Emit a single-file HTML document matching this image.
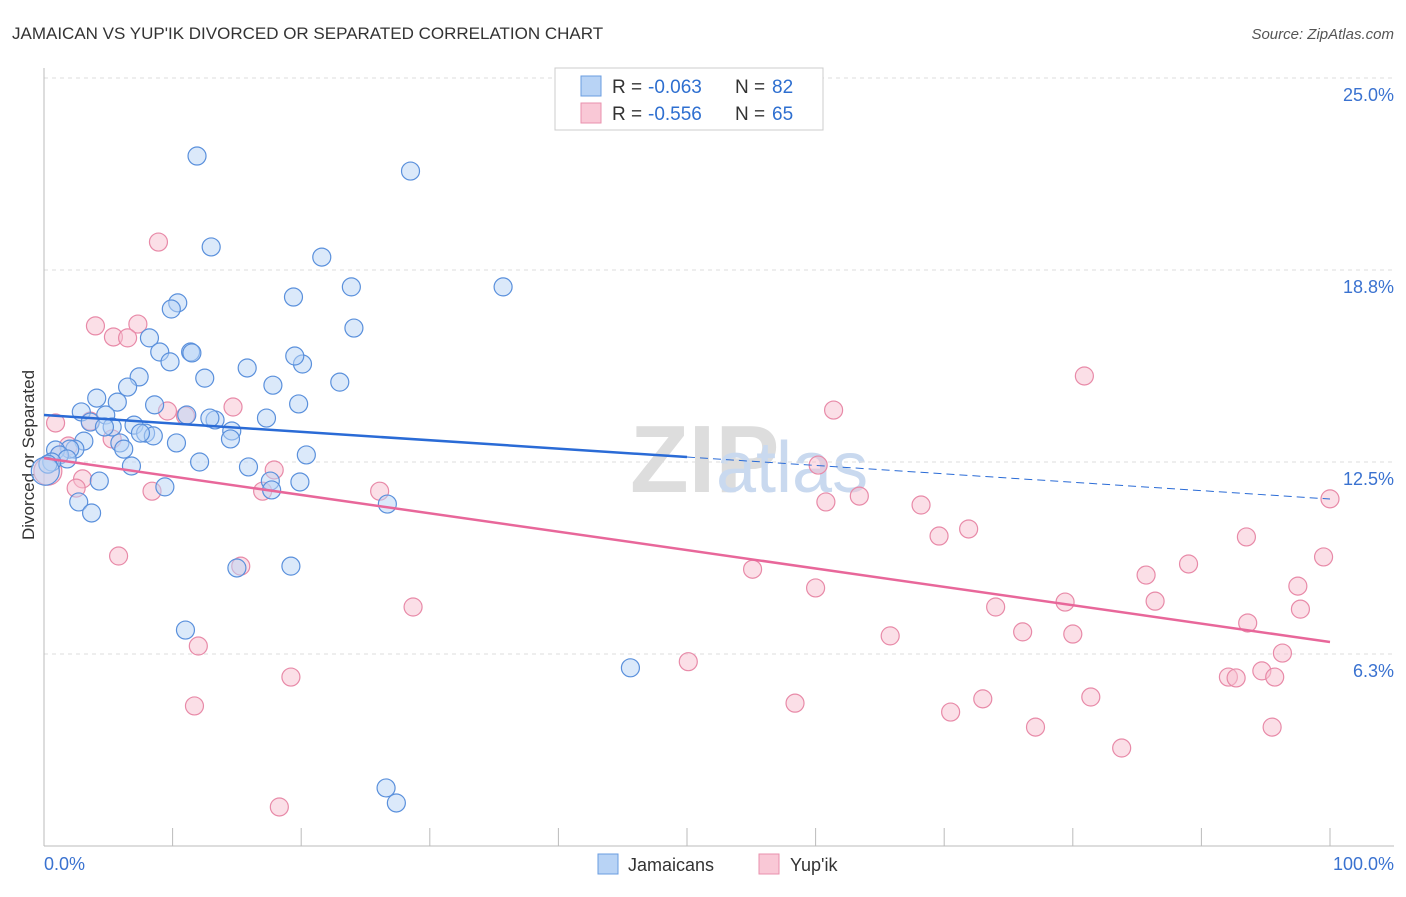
<!DOCTYPE html>
<html><head><meta charset="utf-8"><style>
body{margin:0;background:#fff;font-family:"Liberation Sans",sans-serif;}
svg text{font-family:"Liberation Sans",sans-serif;}
</style></head><body>
<svg id="c" width="1406" height="892" xmlns="http://www.w3.org/2000/svg">
<text x="12" y="39" font-size="17" fill="#333">JAMAICAN VS YUP'IK DIVORCED OR SEPARATED CORRELATION CHART</text>
<text x="1394" y="39" font-size="15" fill="#555" text-anchor="end" font-style="italic">Source: ZipAtlas.com</text>
<text x="630" y="492" font-size="96" fill="#ddd" font-family="Liberation Serif" font-weight="bold">ZIP</text>
<text x="716" y="492" font-size="72" fill="#c9d9ef">atlas</text>
<text transform="translate(34,455) rotate(-90)" font-size="17" fill="#333" text-anchor="middle">Divorced or Separated</text>
<g id="grid"></g><g id="pts"></g><g id="lines"></g>
<g>
<rect x="555" y="68" width="268" height="62" fill="#fff" stroke="#ccc"/>
<rect x="581" y="76" width="20" height="20" fill="#b8d3f5" stroke="#6a9de0"/>
<rect x="581" y="103" width="20" height="20" fill="#f9c8d6" stroke="#e991ad"/>
<text x="612" y="93" font-size="19" fill="#333">R =</text>
<text x="648" y="93" font-size="19" fill="#2e6fd0">-0.063</text>
<text x="735" y="93" font-size="19" fill="#333">N =</text>
<text x="772" y="93" font-size="19" fill="#2e6fd0">82</text>
<text x="612" y="120" font-size="19" fill="#333">R =</text>
<text x="648" y="120" font-size="19" fill="#2e6fd0">-0.556</text>
<text x="735" y="120" font-size="19" fill="#333">N =</text>
<text x="772" y="120" font-size="19" fill="#2e6fd0">65</text>
</g>
<g>
<rect x="598" y="854" width="20" height="20" fill="#b8d3f5" stroke="#6a9de0"/>
<text x="628" y="871" font-size="18" fill="#333">Jamaicans</text>
<rect x="759" y="854" width="20" height="20" fill="#f9c8d6" stroke="#e991ad"/>
<text x="790" y="871" font-size="18" fill="#333">Yup'ik</text>
</g>
<text x="44" y="870" font-size="18" fill="#3a72d0">0.0%</text>
<text x="1394" y="870" font-size="18" fill="#3a72d0" text-anchor="end">100.0%</text>
</svg>
<script>
const yTicks=[25,18.75,12.5,6.25];
const yTickLabels=["25.0%","18.8%","12.5%","6.3%"];
const blueX=[11.9,28.5,13,21.6,19.4,23.9,35.7,10.4,9.9,24.1,8.2,9,11.4,11.5,9.8,15.8,20.1,19.5,12.5,7.4,6.5,17.8,23,4.1,5.7,8.6,19.8,2.9,4.8,11.1,13.3,12.9,17.3,3.6,7,5.3,4.7,7.9,14.6,8.5,7.5,3.1,14.5,10.3,5.9,6.2,2.4,2,0.9,1.2,1.8,0.6,0.3,20.4,6.8,12.1,15.9,17.6,4.3,19.9,17.7,9.4,2.7,26.7,3.7,15,19.2,11,45.6,26.6,27.4,0.1];
const blueY=[22.46,21.97,19.5,19.17,17.87,18.2,18.2,17.68,17.48,16.86,16.54,16.08,16.08,16.05,15.76,15.56,15.69,15.95,15.23,15.27,14.94,15.0,15.1,14.58,14.45,14.36,14.39,14.13,14.03,14.03,13.87,13.93,13.93,13.8,13.7,13.64,13.64,13.44,13.51,13.35,13.44,13.18,13.25,13.12,13.12,12.92,12.92,12.92,12.89,12.73,12.6,12.5,12.43,12.73,12.37,12.5,12.34,11.88,11.88,11.85,11.59,11.69,11.2,11.13,10.84,9.05,9.11,7.03,5.8,1.89,1.4,12.2];
const pinkX=[8.9,4,7.3,5.4,6.5,80.9,61.4,14.7,9.6,11,0.9,3.6,5.3,1.9,1.2,3,2.5,8.4,17,17.9,26.1,60.2,60.8,63.4,68.2,71.9,69.6,93.5,100,99.5,5.8,15.3,55.1,85.7,89,97.5,60,28.7,79.4,86.4,74,97.7,93.6,76.1,80,65.8,12,50.1,96.3,19.2,94.7,92.1,92.7,95.7,81.4,73,58.4,70.5,11.7,77.1,95.5,83.8,18.3,0.3];
const pinkY=[19.66,16.93,16.99,16.57,16.54,15.3,14.19,14.29,14.16,14.0,13.77,13.83,13.25,13.02,12.73,11.95,11.65,11.55,11.55,12.24,11.55,12.4,11.2,11.39,11.1,10.32,10.09,10.06,11.3,9.41,9.44,9.11,9.01,8.82,9.18,8.46,8.4,7.78,7.94,7.97,7.78,7.71,7.26,6.97,6.9,6.84,6.51,6.0,6.28,5.5,5.7,5.5,5.47,5.5,4.85,4.79,4.65,4.36,4.56,3.87,3.87,3.19,1.27,12.2];
const X0=44,X1=1330,Y0=846,YS=192/6.25;
const sx=v=>X0+(X1-X0)*v/100, sy=v=>Y0-v*YS;
const NS="http://www.w3.org/2000/svg";
function mk(tag,attrs,parent){const e=document.createElementNS(NS,tag);for(const k in attrs)e.setAttribute(k,attrs[k]);parent.appendChild(e);return e;}
const grid=document.getElementById('grid');
yTicks.forEach((t,i)=>{
 const l=mk('line',{x1:44,x2:1394,y1:sy(t),y2:sy(t),stroke:'#ddd','stroke-dasharray':'4,4'},grid);
 
 
 const tx=mk('text',{x:1394,y:sy(t)+23,'font-size':18,fill:'#3a72d0','text-anchor':'end'},grid);
 tx.textContent=yTickLabels[i];
 
 
});
const ax=mk('line',{x1:44,x2:1394,y1:846,y2:846,stroke:'#bbb'},grid);


const ay=mk('line',{x1:44,x2:44,y1:68,y2:846,stroke:'#bbb'},grid);


for(let i=0;i<=10;i++){const t=mk('line',{x1:sx(i*10),x2:sx(i*10),y1:828,y2:846,stroke:'#bbb'},grid);
 
 }
const pts=document.getElementById('pts');
function dots(xs,ys,fill,stroke,name){xs.forEach((x,i)=>{
 const c=mk('circle',{cx:sx(x),cy:sy(ys[i]),r:(i==xs.length-1)?14:9,fill:fill,'fill-opacity':0.5,stroke:stroke,'stroke-width':1.2},pts);
 
 });}
dots(pinkX,pinkY,'#f7bfd0','#e88aa8','yupik-point');
dots(blueX,blueY,'#b8d3f5','#5a90dc','jamaican-point');
const lines=document.getElementById('lines');
function fit(xs,ys){const n=xs.length;let mx=0,my=0;for(let i=0;i<n;i++){mx+=xs[i];my+=ys[i];}mx/=n;my/=n;let a=0,b=0;for(let i=0;i<n;i++){a+=(xs[i]-mx)*(ys[i]-my);b+=(xs[i]-mx)**2;}const s=a/b;return x=>my+s*(x-mx);}
const fb=fit(blueX,blueY), fp=fit(pinkX,pinkY);
let l1=mk('line',{x1:sx(0),y1:sy(fb(0)),x2:sx(50),y2:sy(fb(50)),stroke:'#2a6bd6','stroke-width':2.5},lines);


let l2=mk('line',{x1:sx(50),y1:sy(fb(50)),x2:sx(100),y2:sy(fb(100)),stroke:'#2a6bd6','stroke-width':1,'stroke-dasharray':'8,5'},lines);


let l3=mk('line',{x1:sx(0),y1:sy(fp(0)),x2:sx(100),y2:sy(fp(100)),stroke:'#e8679a','stroke-width':2.5},lines);


</script>
</body></html>
